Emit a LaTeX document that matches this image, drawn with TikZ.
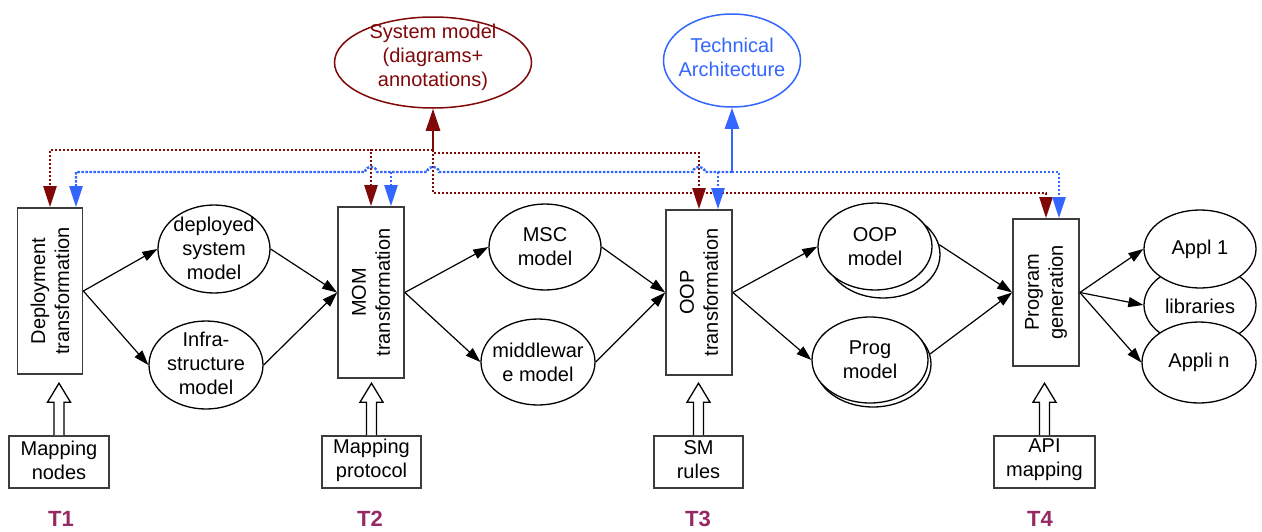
\documentclass[tikz,border=0pt]{standalone}
\usepackage{fontspec}
\setmainfont{Liberation Sans}
\usetikzlibrary{arrows.meta,calc,shapes.geometric}
\definecolor{dred}{RGB}{128,8,8}
\definecolor{mblue}{RGB}{51,102,255}
\definecolor{tlab}{RGB}{150,40,100}
\definecolor{boxgray}{RGB}{60,60,60}
\begin{document}
\begin{tikzpicture}[x=1pt,y=-1pt,
  every node/.style={font=\fontsize{20}{24}\selectfont, inner sep=0pt},
  ell/.style={ellipse, draw=black, line width=1.3pt, fill=white},
  tbox/.style={rectangle, draw=boxgray, line width=1.7pt, fill=white},
  bbox/.style={rectangle, draw=boxgray, line width=1.6pt, fill=white},
  txt/.style={align=center},
  tlabel/.style={font=\fontsize{22}{24}\selectfont\bfseries, text=tlab},
  flow/.style={line width=1.2pt, -{Triangle[length=15pt,width=10pt]}},
  hollow/.style={line width=1.3pt, fill=white},
  reddot/.style={draw=dred, line width=2.4pt, dash pattern=on 2.4pt off 1.6pt, -{Triangle[length=21pt,width=13pt]}},
  bluedot/.style={draw=mblue, line width=2.4pt, dash pattern=on 2.4pt off 1.6pt, -{Triangle[length=21pt,width=13pt]}},
  redmain/.style={draw=dred, line width=2.6pt, -{Triangle[length=22pt,width=14pt]}},
  bluemain/.style={draw=mblue, line width=2.6pt, -{Triangle[length=21pt,width=14pt]}}
]
\fill[white] (0,0) rectangle (1262,531);
\useasboundingbox (0,0) rectangle (1262,531);

% top ellipses
\node[ell, draw=dred, line width=1.5pt, minimum width=197pt, minimum height=91pt] (sys) at (433,62.5) {};
\node[txt, text=dred] (syst) at (433,57) {System model\\(diagrams+\\annotations)};
\node[ell, draw=mblue, line width=1.5pt, minimum width=137pt, minimum height=93pt] (ta) at (732,60.5) {};
\node[txt, text=mblue] (tat) at (732,57) {Technical\\Architecture};

% transformation boxes
\node[tbox, minimum width=65pt, minimum height=166pt] (t1) at (50,291) {};
\node[rotate=90, txt] (t1t) at (t1) {Deployment\\transformation};
\node[tbox, minimum width=66pt, minimum height=171pt] (t2) at (371,292.5) {};
\node[rotate=90, txt] (t2t) at (t2) {MOM\\transformation};
\node[tbox, minimum width=66pt, minimum height=165pt] (t3) at (699,292.5) {};
\node[rotate=90, txt] (t3t) at (t3) {OOP\\transformation};
\node[tbox, minimum width=66pt, minimum height=147pt] (t4) at (1046,292.5) {};
\node[rotate=90, txt] (t4t) at (t4) {Program\\generation};

% model ellipses
\node[ell, minimum width=112pt, minimum height=88pt] (dep) at (214,249) {};
\node[txt] (dept) at (214,248) {deployed\\system\\model};
\node[ell, minimum width=114pt, minimum height=88pt] (infra) at (206,365) {};
\node[txt] (infrat) at (206,363) {Infra-\\structure\\model};
\node[ell, minimum width=112pt, minimum height=86pt] (msc) at (545,247) {};
\node[txt] (msct) at (545,247) {MSC\\model};
\node[ell, minimum width=114pt, minimum height=86pt] (mw) at (538,362) {};
\node[txt] (mwt) at (538,362) {middlewar\\e model};
\node[ell, minimum width=114pt, minimum height=87pt] (oopb) at (883,254.5) {};
\node[ell, minimum width=114pt, minimum height=87pt] (oop) at (875,246.5) {};
\node[txt] (oopt) at (875,246.5) {OOP\\model};
\node[ell, minimum width=116pt, minimum height=86pt] (progb) at (873,364) {};
\node[ell, minimum width=116pt, minimum height=86pt] (prog) at (870,360) {};
\node[txt] (progt) at (870,360) {Prog\\model};
\node[ell, minimum width=112pt, minimum height=80pt] (libs) at (1200,305) {};
\node[txt] (libst) at (1200,306) {libraries};
\node[ell, minimum width=112pt, minimum height=78pt] (appl1) at (1200,249) {};
\node[txt] (appl1t) at (1200,249) {Appl 1};
\node[ell, minimum width=114pt, minimum height=81pt] (appln) at (1199,362.5) {};
\node[txt] (applnt) at (1199,362) {Appli n};

% bottom boxes
\node[bbox, minimum width=100pt, minimum height=52pt] (mapn) at (59,462) {};
\node[txt] (mapnt) at (59,460) {Mapping\\nodes};
\node[bbox, minimum width=99pt, minimum height=52pt] (mapp) at (371.5,462) {};
\node[txt] (mappt) at (371.5,460) {Mapping\\protocol};
\node[bbox, minimum width=89pt, minimum height=52pt] (smr) at (698.5,462) {};
\node[txt] (smrt) at (698.5,460) {SM\\rules};
\node[bbox, minimum width=101pt, minimum height=52pt] (api) at (1044.5,462) {};
\node[txt] (apit) at (1044.5,460) {API\\mapping};

% T labels
\node[tlabel] (l1) at (61,519) {T1};
\node[tlabel] (l2) at (370,519) {T2};
\node[tlabel] (l3) at (698,519) {T3};
\node[tlabel] (l4) at (1040,519) {T4};

% hollow arrows
\foreach \n in {mapn,mapp,smr,api}{
  \draw[hollow] ($(\n.north)+(-5,0)$) -- ++(0,-33) -- ++(-6.5,0) -- ++(11.5,-19) -- ++(11.5,19) -- ++(-6.5,0) -- ++(0,33);
}

% flow connectors
\draw[flow] (t1.east) -- (dep.west);
\draw[flow] (t1.east) -- (infra.west);
\draw[flow] (dep.east) -- (t2.west);
\draw[flow] (infra.east) -- (t2.west);
\draw[flow] (t2.east) -- (msc.west);
\draw[flow] (t2.east) -- (mw.west);
\draw[flow] (msc.east) -- (t3.west);
\draw[flow] (mw.east) -- (t3.west);
\draw[flow] (t3.east) -- (oop.west);
\draw[flow] (t3.east) -- (prog.west);
\draw[flow] (oopb.10) -- (t4.west);
\draw[flow] (progb.10) -- (t4.west);
\draw[flow] (t4.east) -- (appl1.west);
\draw[flow] (t4.east) -- (libs.west);
\draw[flow] (t4.east) -- (appln.west);

% red system model links
\coordinate (rj) at (433,150);
\draw[reddot] (rj) -| (t1.north);
\draw[reddot] (rj) -| (t2.north);
\draw[reddot] (rj) -- ++(0,3) -| (t3.north);
\draw[reddot] (rj) -- ++(0,43) -| (t4.north);
\draw[redmain] (rj) -- (sys.south);

% blue technical architecture links
\coordinate (bj) at (732,172);
\coordinate (b2) at (391,172);
\coordinate (b3) at (718,172);
\draw[bluedot] (bj) -- (705,172) .. controls (704,165) and (694,165) .. (693,172)
  -- (439,172) .. controls (438,165) and (428,165) .. (427,172)
  -- (377,172) .. controls (376,165) and (366,165) .. (365,172)
  -| ($(t1.north)+(26,0)$);
\draw[bluedot] (b2) -- (b2 |- t2.north);
\draw[bluedot] (b3) -- (b3 |- t3.north);
\draw[bluedot] (bj) -| ($(t4.north)+(13,0)$);
\draw[bluemain] (bj) -- (ta.south);
\end{tikzpicture}
\end{document}
